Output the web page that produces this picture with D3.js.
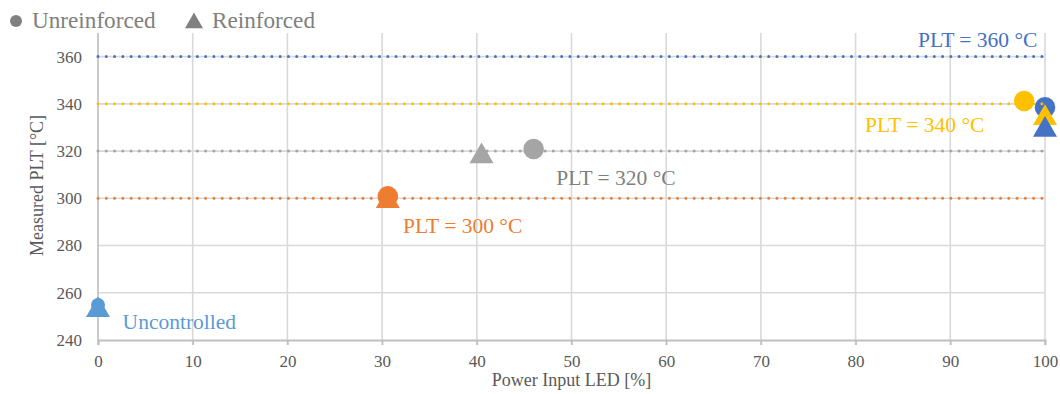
<!DOCTYPE html>
<html lang="en">
<head>
<meta charset="utf-8">
<title>Measured PLT vs Power Input LED</title>
<script src="https://d3js.org/d3.v7.min.js"></script>
<style>
    body { margin: 0; background: #fff; font-family: "Liberation Serif", "Times New Roman", serif; }
    .grid line { stroke: #d9d9d9; stroke-width: 1.6; }
    .tick text { fill: #595959; font-size: 17px; font-family: "Liberation Serif", serif; }
</style>
</head>
<body>
<script>

// target lines (PLT setpoints)
var targets = [300, 320, 340, 360];
var targetColors = ["#ed7d31", "#a5a5a5", "#ffc000", "#4472c4"];

// unreinforced (circles): power input %, measured PLT
var unreinforced = [
    {x: 0,    y: 254.8, c: "#5b9bd5", r: 7},
    {x: 30.6, y: 300.8, c: "#ed7d31", r: 10.3},
    {x: 46,   y: 320.9, c: "#a5a5a5", r: 10.3},
    {x: 97.8, y: 341.2, c: "#ffc000", r: 10.3},
    {x: 100,  y: 338.5, c: "#4472c4", r: 10.3}
];
// reinforced (triangles)
var reinforced = [
    {x: 0,    y: 252.7, c: "#5b9bd5"},
    {x: 30.6, y: 298.8, c: "#ed7d31"},
    {x: 40.5, y: 317.8, c: "#a5a5a5"},
    {x: 100,  y: 334,   c: "#ffc000"},
    {x: 100,  y: 329,   c: "#4472c4"}
];

var xTicks = d3.range(0, 101, 10);
var yTicks = [240, 260, 280, 300, 320, 340, 360];

var labels = [
    {text: "PLT = 360 °C", x: 99.2, y: 364.1, anchor: "end", c: "#4472c4"},
    {text: "PLT = 340 °C", x: 81.0, y: 328.1, anchor: "start", c: "#ffc000"},
    {text: "PLT = 320 °C", x: 48.4, y: 305.6, anchor: "start", c: "#7f7f7f"},
    {text: "PLT = 300 °C", x: 32.2, y: 285.3, anchor: "start", c: "#ed7d31"},
    {text: "Uncontrolled", x: 2.6, y: 244.7, anchor: "start", c: "#5b9bd5"}
];

var width = 1060, height = 394;
var mLeft = 98, mRight = 1045, mTop = 33, mBottom = 340;

var x = d3.scaleLinear().domain([0, 100]).range([mLeft, mRight]);
var y = d3.scaleLinear().domain([240, 370]).range([mBottom, mTop]);

var svg = d3.select("body").append("svg")
    .attr("width", width)
    .attr("height", height);

// gridlines
var grid = svg.append("g").attr("class", "grid");
grid.selectAll(".v").data(xTicks).enter().append("line")
    .attr("x1", function(d) { return x(d); })
    .attr("x2", function(d) { return x(d); })
    .attr("y1", mTop).attr("y2", mBottom + 5);
grid.selectAll(".h").data(yTicks.slice(1)).enter().append("line")
    .attr("x1", mLeft).attr("x2", mRight)
    .attr("y1", function(d) { return y(d); })
    .attr("y2", function(d) { return y(d); });

// x axis
var xAxis = svg.append("g")
    .attr("transform", "translate(0," + mBottom + ")")
    .call(d3.axisBottom(x).tickValues(xTicks).tickSize(5).tickPadding(10));
xAxis.select(".domain").attr("stroke", "#bfbfbf").attr("stroke-width", 2);
xAxis.selectAll(".tick line").attr("stroke", "#bfbfbf").attr("stroke-width", 1.6);

// y axis
var yAxis = svg.append("g")
    .attr("transform", "translate(" + mLeft + ",0)")
    .call(d3.axisLeft(y).tickValues(yTicks).tickSize(0).tickPadding(16));
yAxis.select(".domain").attr("stroke", "#c8c8c8").attr("stroke-width", 1.8)
    .attr("d", "M0," + mTop + "V" + mBottom);

// circles
svg.selectAll(".circ").data(unreinforced).enter().append("circle")
    .attr("cx", function(d) { return x(d.x); })
    .attr("cy", function(d) { return y(d.y); })
    .attr("r", function(d) { return d.r; })
    .attr("fill", function(d) { return d.c; });

// dotted target lines
svg.selectAll(".target").data(targets).enter().append("line")
    .attr("x1", x(0)).attr("x2", x(100))
    .attr("y1", function(d) { return y(d); })
    .attr("y2", function(d) { return y(d); })
    .attr("stroke", function(d, i) { return targetColors[i]; })
    .attr("stroke-width", 3)
    .attr("stroke-linecap", "round")
    .attr("stroke-dasharray", "0 8.28");

// triangles
var tri = d3.symbol().type(d3.symbolTriangle).size(250);
svg.selectAll(".tri").data(reinforced).enter().append("path")
    .attr("d", tri)
    .attr("transform", function(d) { return "translate(" + x(d.x) + "," + y(d.y) + ")"; })
    .attr("fill", function(d) { return d.c; });

// series labels
svg.selectAll(".lbl").data(labels).enter().append("text")
    .attr("x", function(d) { return x(d.x); })
    .attr("y", function(d) { return y(d.y); })
    .attr("text-anchor", function(d) { return d.anchor; })
    .attr("fill", function(d) { return d.c; })
    .style("font-size", "21.5px")
    .text(function(d) { return d.text; });

// axis titles
svg.append("text")
    .attr("x", (mLeft + mRight) / 2).attr("y", 386)
    .attr("text-anchor", "middle")
    .attr("fill", "#595959")
    .style("font-size", "18px")
    .text("Power Input LED [%]");
svg.append("text")
    .attr("transform", "translate(43,185.5) rotate(-90)")
    .attr("text-anchor", "middle")
    .attr("fill", "#595959")
    .style("font-size", "18px")
    .text("Measured PLT [°C]");

// legend
var legend = svg.append("g").attr("fill", "#808080").style("font-size", "23.2px");
legend.append("circle").attr("cx", 16).attr("cy", 21).attr("r", 6);
legend.append("text").attr("x", 32).attr("y", 28).text("Unreinforced");
legend.append("path")
    .attr("d", d3.symbol().type(d3.symbolTriangle).size(140))
    .attr("transform", "translate(194,23)");
legend.append("text").attr("x", 212).attr("y", 28).text("Reinforced");

</script>
</body>
</html>
